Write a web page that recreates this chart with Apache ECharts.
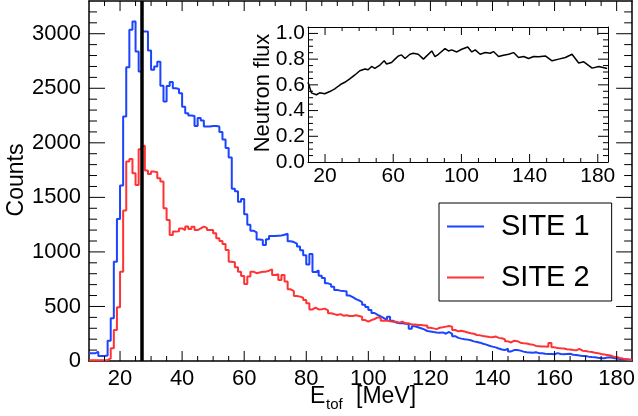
<!DOCTYPE html>
<html><head><meta charset="utf-8">
<script src="https://cdn.jsdelivr.net/npm/echarts@6/dist/echarts.min.js"></script>
<style>html,body{margin:0;padding:0;background:#fff}#c{width:638px;height:416px}</style>
</head><body><div id="c"></div>
<script>
// ---- data ----
const binStart = 10;     // MeV, lower edge of first bin
const binWidth = 1;      // MeV
const site1Counts = [70,70,85,45,45,50,186,391,910,1302,1608,2241,2693,3036,3112,2837,2653,3020,3020,2846,
2669,2700,2742,2522,2378,2520,2558,2500,2494,2454,2330,2271,2250,2245,2155,2228,2205,2150,2150,2155,
2155,2150,2100,2030,1952,1865,1578,1556,1460,1485,1345,1250,1195,1180,1113,1110,1064,1116,1146,1146,
1148,1150,1158,1166,1097,1090,1075,1050,1015,970,884,980,815,830,782,760,712,702,680,651,
645,642,640,600,585,568,555,540,515,495,468,440,422,408,392,378,405,368,352,345,
345,342,338,295,318,310,300,290,275,270,265,262,260,262,250,266,248,228,212,205,
200,196,190,180,175,168,158,150,140,132,125,115,106,100,112,88,100,100,95,86,
80,78,75,80,72,70,66,64,64,62,72,64,62,64,66,58,55,50,46,45,
40,36,35,30,26,25,32,34,28,22,18,16,15,14,12];
const site2Counts = [8,8,8,8,8,8,24,116,284,492,819,1379,1828,1852,1721,1614,1941,1972,1746,1715,
1736,1730,1675,1645,1400,1293,1156,1186,1190,1215,1200,1232,1210,1230,1200,1215,1232,1220,1201,1201,
1170,1125,1100,1073,1018,910,905,860,819,780,706,774,819,805,812,819,819,828,840,789,
795,743,789,728,657,640,596,590,580,559,530,473,490,473,475,480,465,437,430,422,
430,415,420,412,412,420,412,405,375,360,375,385,400,395,370,372,365,360,360,352,
360,345,345,335,335,330,330,325,325,305,299,292,305,309,315,321,315,284,272,278,
270,262,254,250,238,235,229,225,220,218,225,212,208,200,180,170,186,182,168,162,
160,153,150,138,136,132,132,130,165,125,120,116,115,107,105,101,98,112,95,92,
86,82,76,72,64,60,55,50,40,36,28,22,15,12,10];
const cutEnergy = 26.9;
const seriesNames = ['SITE 1', 'SITE 2'];

const fluxEnergy = [10.0,12.0,14.9,16.9,19.8,22.8,25.7,27.7,28.7,29.6,31.6,32.6,34.5,37.5,40.4,43.4,45.3,47.3,49.2,52.2,
54.7,56.1,59.0,61.0,63.0,64.9,66.9,69.8,71.8,74.7,75.7,77.7,82.6,84.5,86.5,90.4,92.4,94.3,97.3,100.2,
103.7,106.1,108.1,111.0,114.0,116.9,118.8,121.8,124.7,127.7,130.6,133.5,136.5,139.4,142.4,145.3,149.2,153.2,157.1,161.0,
164.9,168.8,171.8,176.7,180.6,185.5];
const fluxValue = [0.62,0.538,0.523,0.538,0.531,0.548,0.569,0.589,0.582,0.607,0.62,0.612,0.646,0.677,0.71,0.723,0.718,0.743,0.728,0.754,
0.787,0.762,0.774,0.80,0.825,0.833,0.805,0.838,0.846,0.838,0.851,0.80,0.864,0.82,0.838,0.882,0.864,0.872,0.856,0.877,
0.895,0.856,0.872,0.838,0.851,0.846,0.859,0.82,0.831,0.838,0.851,0.813,0.82,0.805,0.82,0.818,0.825,0.787,0.80,0.813,
0.838,0.77,0.779,0.73,0.743,0.728];

const xTickLabels = [20,40,60,80,100,120,140,160,180];
const yTickLabels = [0,500,1000,1500,2000,2500,3000];
const insetXTickLabels = [20,60,100,140,180];
const insetYTickLabels = [0,0.2,0.4,0.6,0.8,1.0];

// ---- helpers ----
const FONT = '"Liberation Sans", Arial, Helvetica, sans-serif';
const X_MIN = 10, X_MAX = 185, Y_MIN = 0, Y_MAX = 3300;
const IX_MIN = 10, IX_MAX = 186, IY_MIN = 0, IY_MAX = 1.05;

function range(a, b, step, skip) {
  const out = [];
  for (let v = a; v <= b + 1e-9; v += step) {
    const r = Math.round(v * 1000) / 1000;
    if (!skip || !skip(r)) out.push(r);
  }
  return out;
}
function histPoints(counts) {
  const pts = counts.map((v, i) => [binStart + i * binWidth, v]);
  pts.push([binStart + counts.length * binWidth, counts[counts.length - 1]]);
  return pts;
}
function mkAxis(grid, position, min, max, lineW, labelVals, label) {
  return {
    type: 'value', gridIndex: grid, position: position, min: min, max: max,
    splitLine: { show: false },
    axisLine: { show: true, onZero: false, lineStyle: { color: '#000', width: lineW } },
    axisTick: { show: false },
    axisLabel: label ? Object.assign({ show: true, customValues: labelVals, color: '#000', fontFamily: FONT }, label) : { show: false },
    minorTick: { show: false }
  };
}
// tick marks drawn through the axes' own scales
function tickSeries(xi, yi, pts, dx, dy) {
  return {
    type: 'custom', xAxisIndex: xi, yAxisIndex: yi, silent: true, z: 4, clip: false,
    data: pts,
    renderItem: function (params, api) {
      const p = api.coord([api.value(0), api.value(1)]);
      return { type: 'line', shape: { x1: p[0], y1: p[1], x2: p[0] + dx, y2: p[1] + dy },
               style: { stroke: '#000', lineWidth: 1 } };
    }
  };
}

const xMajor = xTickLabels;
const xMinor = range(15, 175, 5, v => v % 20 === 0);
const yMajor = yTickLabels.filter(v => v > 0);
const yMinor = range(100, 3200, 100, v => v % 500 === 0);
const ixMajor = insetXTickLabels;
const ixMinor = range(30, 170, 10, v => insetXTickLabels.indexOf(v) >= 0);
const iyMajor = insetYTickLabels.filter(v => v > 0);
const iyMinor = range(0.05, 1.0, 0.05, v => Math.abs(v * 5 - Math.round(v * 5)) < 1e-6);

const xAxes = [
  mkAxis(0, 'bottom', X_MIN, X_MAX, 1.5, xTickLabels, { fontSize: 22, margin: 7 }),
  mkAxis(0, 'top', X_MIN, X_MAX, 1.5),
  mkAxis(1, 'bottom', IX_MIN, IX_MAX, 1, insetXTickLabels, { fontSize: 21, margin: 4 }),
  mkAxis(1, 'top', IX_MIN, IX_MAX, 1)
];
const yAxes = [
  mkAxis(0, 'left', Y_MIN, Y_MAX, 1.5, yTickLabels, { fontSize: 22, margin: 8, formatter: v => String(v) }),
  mkAxis(0, 'right', Y_MIN, Y_MAX, 1.5),
  mkAxis(1, 'left', IY_MIN, IY_MAX, 1, insetYTickLabels, { fontSize: 21, margin: 3, formatter: v => Number(v).toFixed(1) }),
  mkAxis(1, 'right', IY_MIN, IY_MAX, 1)
];

const ticks = [
  tickSeries(0, 0, xMajor.map(v => [v, Y_MIN]), 0, -10),
  tickSeries(0, 0, xMinor.map(v => [v, Y_MIN]), 0, -5),
  tickSeries(0, 0, xMajor.map(v => [v, Y_MAX]), 0, 10),
  tickSeries(0, 0, xMinor.map(v => [v, Y_MAX]), 0, 5),
  tickSeries(0, 0, yMajor.map(v => [X_MIN, v]), 16, 0),
  tickSeries(0, 0, yMinor.map(v => [X_MIN, v]), 8, 0),
  tickSeries(0, 0, yMajor.map(v => [X_MAX, v]), -16, 0),
  tickSeries(0, 0, yMinor.map(v => [X_MAX, v]), -8, 0),
  tickSeries(2, 2, ixMajor.map(v => [v, IY_MIN]), 0, -8),
  tickSeries(2, 2, ixMinor.map(v => [v, IY_MIN]), 0, -4),
  tickSeries(2, 2, ixMajor.map(v => [v, IY_MAX]), 0, 8),
  tickSeries(2, 2, ixMinor.map(v => [v, IY_MAX]), 0, 4),
  tickSeries(2, 2, iyMajor.map(v => [IX_MIN, v]), 10, 0),
  tickSeries(2, 2, iyMinor.map(v => [IX_MIN, v]), 5, 0),
  tickSeries(2, 2, iyMajor.map(v => [IX_MAX, v]), -10, 0),
  tickSeries(2, 2, iyMinor.map(v => [IX_MAX, v]), -5, 0)
];

const chart = echarts.init(document.getElementById('c'), null, { renderer: 'canvas' });
chart.setOption({
  animation: false,
  backgroundColor: '#fff',
  grid: [
    { left: 89, top: 1, right: 3, bottom: 55, show: false },
    { left: 308, top: 27, right: 30, bottom: 254, show: false }
  ],
  xAxis: xAxes,
  yAxis: yAxes,
  legend: {
    data: seriesNames, orient: 'vertical', left: 439, top: 203,
    padding: [9, 22, 9, 8], itemWidth: 37, itemHeight: 2, itemGap: 22, icon: 'rect',
    borderColor: '#000', borderWidth: 1, borderRadius: 0, backgroundColor: '#fff',
    textStyle: { fontSize: 29, fontFamily: FONT, color: '#000', padding: [0, 0, 0, 12] }
  },
  graphic: [
    { type: 'text', x: 17, y: 180, rotation: Math.PI / 2,
      style: { text: 'Counts', fill: '#000', font: '23px ' + FONT, align: 'center', verticalAlign: 'middle', textAlign: 'center', textVerticalAlign: 'middle' } },
    { type: 'text', x: 263, y: 93, rotation: Math.PI / 2, z: 10,
      style: { text: 'Neutron flux', fill: '#000', font: '22px ' + FONT, align: 'center', verticalAlign: 'middle', textAlign: 'center', textVerticalAlign: 'middle' } },
    { type: 'text', x: 310, y: 397,
      style: { text: 'E', fill: '#000', font: '23px ' + FONT, align: 'left', verticalAlign: 'middle', textAlign: 'left', textVerticalAlign: 'middle' } },
    { type: 'text', x: 326, y: 405,
      style: { text: 'tof', fill: '#000', font: '15px ' + FONT, align: 'left', verticalAlign: 'middle', textAlign: 'left', textVerticalAlign: 'middle' } },
    { type: 'text', x: 356, y: 397,
      style: { text: '[MeV]', fill: '#000', font: '23px ' + FONT, align: 'left', verticalAlign: 'middle', textAlign: 'left', textVerticalAlign: 'middle' } }
  ],
  series: [
    { name: seriesNames[0], type: 'line', xAxisIndex: 0, yAxisIndex: 0, step: 'end', symbol: 'none',
      data: histPoints(site1Counts), color: '#1a44ff', lineStyle: { color: '#1a44ff', width: 2 }, z: 3 },
    { name: seriesNames[1], type: 'line', xAxisIndex: 0, yAxisIndex: 0, step: 'end', symbol: 'none',
      data: histPoints(site2Counts), color: '#ff3333', lineStyle: { color: '#ff3333', width: 2 }, z: 3 },
    { name: 'cut', type: 'line', xAxisIndex: 0, yAxisIndex: 0, data: [], z: 6,
      markLine: { silent: true, symbol: 'none', label: { show: false },
        lineStyle: { color: '#000', width: 3.5, type: 'solid' }, data: [{ xAxis: cutEnergy }] } },
    { name: 'flux', type: 'line', xAxisIndex: 2, yAxisIndex: 2, symbol: 'none', z: 12,
      data: fluxEnergy.map((e, i) => [e, fluxValue[i]]), lineStyle: { color: '#000', width: 1.5 } }
  ].concat(ticks)
});
</script></body></html>
